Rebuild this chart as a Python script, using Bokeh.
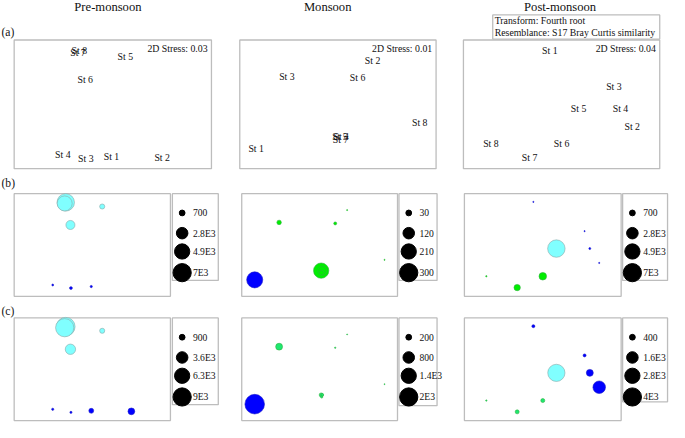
import numpy as np
from bokeh.plotting import figure
from bokeh.models import Range1d
from bokeh.core.properties import value
from bokeh.embed import file_html
from bokeh.resources import INLINE

# ---------------- data ----------------
stations = ["St 1", "St 2", "St 3", "St 4", "St 5", "St 6", "St 7", "St 8"]
seasons = ["Pre-monsoon", "Monsoon", "Post-monsoon"]
stress_labels = ["2D Stress: 0.03", "2D Stress: 0.01", "2D Stress: 0.04"]
transform_lines = ["Transform: Fourth root", "Resemblance: S17 Bray Curtis similarity"]
row_labels = ["(a)", "(b)", "(c)"]

# nMDS ordination coordinates
pre_mds1 = [-0.02, 0.75, -0.41, -0.76, 0.19, -0.42, -0.53, -0.51]
pre_mds2 = [-0.81, -0.82, -0.84, -0.78, 0.75, 0.39, 0.81, 0.83]
mon_mds1 = [-1.25, 0.53, -0.78, 0.05, 0.03, 0.30, 0.04, 1.25]
mon_mds2 = [-0.68, 0.68, 0.44, -0.50, -0.50, 0.42, -0.54, -0.29]
post_mds1 = [-0.18, 1.08, 0.80, 0.90, 0.26, 0.00, -0.49, -1.08]
post_mds2 = [0.84, -0.35, 0.27, -0.07, -0.07, -0.61, -0.83, -0.61]

# bubble values (row b and row c)
pre_b = [107, 0, 170, 75, 540, 1720, 4750, 6400]
pre_c = [650, 1230, 130, 130, 700, 2900, 9000, 9400]
mon_b = [233, 1.2, 18, 70, 211, 8, 20, 1.2]
mon_c = [2310, 6, 283, 50, 95, 11, 30, 6]
post_b = [30, 30, 30, 80, 6400, 1200, 850, 40]
post_c = [106, 1880, 106, 580, 3570, 190, 190, 23]

# cluster groups of stations
pre_group = ["B", "B", "B", "B", "C", "C", "C", "C"]
mon_group = ["B", "G", "G", "G", "G", "G", "G", "G"]
post_group = ["B", "B", "B", "B", "C", "G", "G", "G"]

# bubble legends
pre_b_leg = [700, 2800, 4900, 7000]
pre_b_leg_txt = ["700", "2.8E3", "4.9E3", "7E3"]
pre_c_leg = [900, 3600, 6300, 9000]
pre_c_leg_txt = ["900", "3.6E3", "6.3E3", "9E3"]
mon_b_leg = [30, 120, 210, 300]
mon_b_leg_txt = ["30", "120", "210", "300"]
mon_c_leg = [200, 800, 1400, 2000]
mon_c_leg_txt = ["200", "800", "1.4E3", "2E3"]
post_b_leg = [700, 2800, 4900, 7000]
post_b_leg_txt = ["700", "2.8E3", "4.9E3", "7E3"]
post_c_leg = [400, 1600, 2800, 4000]
post_c_leg_txt = ["400", "1.6E3", "2.8E3", "4E3"]

# ---------------- styling / layout ----------------
W, H = 685, 438            # reference canvas units
FW, FH = 669, 422          # figure size on page
SC = 0.97                  # canvas -> screen scale
XR = (-1.5, 1.5)
YR = (-1.0, 1.0)
FONT = value("Liberation Serif")
TXT = "#111111"
BOX = "#BDBDBD"
RMAX = 9.4

fill_b = {"B": "#0000FF", "C": "#80FFFF", "G": "#00EE00"}
fill_c = {"B": "#0000FF", "C": "#80FFFF", "G": "#1EE870"}
edge = {"B": "#1A1AC8", "C": "#8AA8A8", "G": "#30B040"}

a_cols = [(14, 216), (245, 446), (474, 675)]
bc_cols = [(14, 174), (247, 406.5), (475, 635.5)]
a_rows = (41, 174.5)
b_rows = (200.5, 307)
c_rows = (329.5, 436)
title_x = [110, 335, 573]
leg_left = [176, 408, 637]
leg_w = [47, 39, 46]
leg_h = [[90, 90, 90], [90, 91, 87]]
leg_dot_dy = [20, 41, 60, 82]
leg_txt_dx = 21

p = figure(width=FW, height=FH, x_range=Range1d(0, W), y_range=Range1d(H, 0),
           output_backend="svg", toolbar_location=None, min_border=0,
           x_axis_type=None, y_axis_type=None, title=None)
p.grid.visible = False
p.outline_line_color = None
p.background_fill_color = "white"
p.border_fill_color = "white"

xr, yr = {}, {}


def panel(name, L, R, T, B):
    sx = (XR[1] - XR[0]) / (R - L)
    xr[name] = Range1d(XR[0] - L * sx, XR[1] + (W - R) * sx)
    sy = (YR[1] - YR[0]) / (B - T)
    yr[name] = Range1d(YR[0] - (H - B) * sy, YR[1] + T * sy)
    p.quad(left=[L], right=[R], top=[T], bottom=[B], fill_color=None,
           line_color=BOX, line_width=1.3)


mds = [(pre_mds1, pre_mds2), (mon_mds1, mon_mds2), (post_mds1, post_mds2)]
groups = [pre_group, mon_group, post_group]
bvals = [pre_b, mon_b, post_b]
cvals = [pre_c, mon_c, post_c]
legs = [[(pre_b_leg, pre_b_leg_txt), (mon_b_leg, mon_b_leg_txt), (post_b_leg, post_b_leg_txt)],
        [(pre_c_leg, pre_c_leg_txt), (mon_c_leg, mon_c_leg_txt), (post_c_leg, post_c_leg_txt)]]

for i in range(3):
    # titles
    p.text(x=[title_x[i]], y=[6.5], text=[seasons[i]], text_align="center",
           text_baseline="middle", text_font=FONT, text_font_size="12.6px", text_color=TXT)
    # (a) ordination panel
    L, R = a_cols[i]
    name = f"a{i}"
    panel(name, L, R, *a_rows)
    mx, my = mds[i]
    p.text(x=mx, y=my, text=stations, x_range_name=name, y_range_name=name,
           text_align="center", text_baseline="middle", text_font=FONT,
           text_font_size="9.8px", text_color=TXT)
    p.text(x=[R - 4], y=[50], text=[stress_labels[i]], text_align="right",
           text_baseline="middle", text_font=FONT, text_font_size="9.8px", text_color=TXT)

    # (b), (c) bubble panels
    for r, (rows, vals, fills) in enumerate([(b_rows, bvals[i], fill_b), (c_rows, cvals[i], fill_c)]):
        L, R = bc_cols[i]
        T, B = rows
        name = f"{'bc'[r]}{i}"
        panel(name, L, R, T, B)
        lv, lt = legs[r][i]
        vmax = max(lv)
        v = np.array(vals, dtype=float)
        order = np.argsort(-v)
        order = [k for k in order if v[k] > 0]
        sizes = [2 * RMAX * np.sqrt(v[k] / vmax) * SC for k in order]
        p.scatter(x=[mx[k] for k in order], y=[my[k] for k in order], size=sizes,
                  fill_color=[fills[groups[i][k]] for k in order],
                  line_color=[edge[groups[i][k]] for k in order], line_width=0.6,
                  x_range_name=name, y_range_name=name)
        # legend box
        ll = leg_left[i]
        p.quad(left=[ll], right=[ll + leg_w[i]], top=[T], bottom=[T + leg_h[r][i]],
               fill_color=None, line_color=BOX, line_width=1.3)
        ys = [T + d for d in leg_dot_dy]
        p.scatter(x=[ll + 10] * 4, y=ys,
                  size=[2 * RMAX * np.sqrt(q / vmax) * SC for q in lv],
                  fill_color="black", line_color="black")
        p.text(x=[ll + leg_txt_dx] * 4, y=ys, text=lt, text_align="left",
               text_baseline="middle", text_font=FONT, text_font_size="9.6px", text_color=TXT)

# row labels
for lab, yy in zip(row_labels, [33, 190, 323]):
    p.text(x=[1], y=[yy], text=[lab], text_align="left", text_baseline="middle",
           text_font=FONT, text_font_size="11.6px", text_color=TXT)

# transform / resemblance box
p.quad(left=[504], right=[675], top=[15], bottom=[40], fill_color=None,
       line_color=BOX, line_width=1.3)
p.text(x=[506, 506], y=[21, 33], text=transform_lines, text_align="left",
       text_baseline="middle", text_font=FONT, text_font_size="9.8px", text_color=TXT)

p.extra_x_ranges = xr
p.extra_y_ranges = yr

open("out.html", "w").write(file_html(p, INLINE))
